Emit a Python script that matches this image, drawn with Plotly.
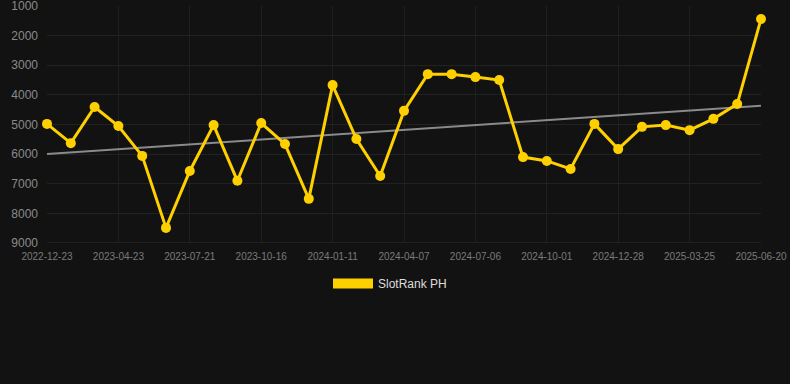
import plotly.graph_objects as go
import numpy as np

dates = ["2022-12-23", "2023-01-31", "2023-03-14", "2023-04-23", "2023-05-22", "2023-06-21",
         "2023-07-21", "2023-08-19", "2023-09-17", "2023-10-16", "2023-11-14", "2023-12-13",
         "2024-01-11", "2024-02-09", "2024-03-09", "2024-04-07", "2024-05-07", "2024-06-06",
         "2024-07-06", "2024-08-04", "2024-09-02", "2024-10-01", "2024-10-30", "2024-11-28",
         "2024-12-28", "2025-01-26", "2025-02-24", "2025-03-25", "2025-04-23", "2025-05-22",
         "2025-06-20"]
ranks = [4980, 5630, 4410, 5050, 6060, 8490, 6570, 5020, 6900, 4950, 5660, 7510,
         3670, 5490, 6740, 4540, 3300, 3300, 3400, 3500, 6100, 6230, 6500, 4980,
         5830, 5080, 5020, 5190, 4810, 4310, 1440]
tick_labels = dates[::3]
y_ticks = [1000, 2000, 3000, 4000, 5000, 6000, 7000, 8000, 9000]
series_name = "SlotRank PH"

x_idx = np.arange(len(ranks))
slope, intercept = np.polyfit(x_idx, ranks, 1)
trend = slope * x_idx + intercept

fig = go.Figure()
fig.add_trace(go.Scatter(x=dates, y=trend, mode="lines",
                         line=dict(color="#8a8a8a", width=2), showlegend=False,
                         hoverinfo="skip"))
fig.add_trace(go.Scatter(x=dates, y=ranks, mode="lines+markers", name=series_name,
                         line=dict(color="#FFD000", width=3),
                         marker=dict(color="#FFD000", size=10),
                         cliponaxis=False, showlegend=False))
fig.add_trace(go.Scatter(x=[None], y=[None], mode="lines", name=series_name,
                         line=dict(color="#FFD000", width=11)))

fig.update_layout(
    width=790, height=384,
    margin=dict(l=47, r=29, t=6, b=141),
    paper_bgcolor="#121212", plot_bgcolor="#121212",
    font=dict(family="Liberation Sans, Arial, sans-serif", color="#8a8a8a"),
    xaxis=dict(type="category", range=[0, len(dates) - 1], automargin=False,
               tickmode="array", tickvals=tick_labels, ticktext=tick_labels,
               tickfont=dict(size=10, color="#7a7a7a"), ticklabeloverflow="allow",
               showgrid=True, gridcolor="#1f1f1f", zeroline=False,
               showline=False, ticks="", ticklen=0, ticklabelstandoff=6),
    yaxis=dict(range=[9000, 1000], tickvals=y_ticks, automargin=False,
               tickfont=dict(size=12, color="#8a8a8a"), ticklabeloverflow="allow",
               showgrid=True, gridcolor="#222222", zeroline=False, showline=False,
               ticks="", ticklen=0, ticklabelstandoff=8),
    legend=dict(orientation="h", x=0.4804, xanchor="center", y=-0.11, yanchor="top",
                font=dict(size=12, color="#dddddd"), itemwidth=40),
    shapes=[dict(type="line", xref="paper", yref="y", x0=0, x1=1, y0=9000, y1=9000,
                 line=dict(color="#2e2e2e", width=1), layer="below")],
)

fig.write_html("out.html", config={"displayModeBar": False},
               post_script="document.body.style.margin='0';document.body.style.background='#121212';")
